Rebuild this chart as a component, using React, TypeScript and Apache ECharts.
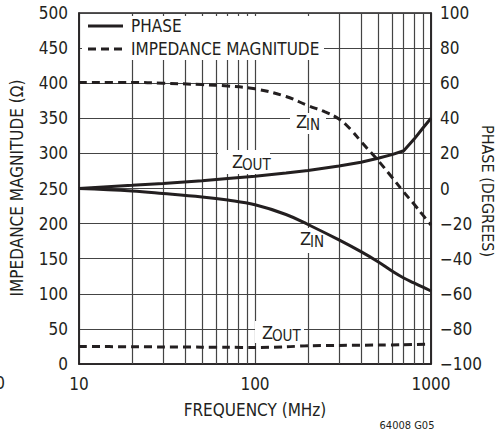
import React, { useEffect, useRef } from "react";
import * as echarts from "echarts";

const freq = [10, 20, 30, 50, 70, 100, 150, 200, 300, 400, 500, 600, 700, 800, 900, 1000];
const phaseZout = [0, 1.8, 2.9, 4.4, 5.7, 7, 8.8, 10.3, 12.8, 15, 17.2, 19.3, 21.5, 28, 34.5, 40];
const phaseZin = [0, -1.4, -2.8, -4.8, -6.6, -9.3, -14.8, -20.5, -29.3, -36, -41.7, -47, -51, -53.8, -56.2, -58.4];
const zinFreq = [10, 20, 30, 50, 70, 100, 150, 200, 250, 300, 350, 400, 500, 600, 700, 800, 900, 1000];
const zinMag = [401, 401, 400, 398, 396, 392, 381, 368, 359, 349, 334, 317, 290, 266, 245, 228, 212, 198];
const zoutFreq = [10, 20, 30, 50, 70, 100, 150, 200, 300, 500, 700, 930];
const zoutMag = [25, 24.6, 24.3, 24, 23.8, 23.5, 24.5, 26, 26.5, 27, 27.5, 28];
const minorFreqs = [20, 30, 40, 50, 60, 70, 80, 90, 200, 300, 400, 500, 600, 700, 800, 900];
const legendNames = ["PHASE", "IMPEDANCE MAGNITUDE"];

const FONT = "'Liberation Sans Narrow', 'DejaVu Sans Condensed', 'Liberation Sans', sans-serif";
const INK = "#231f20";
const GRID = "#444";
const DASH = [8, 5];

const pairs = (xs: number[], ys: number[]) => xs.map((x, i) => [x, ys[i]]);
const minus = (v: number) => (v < 0 ? "\u2212" + Math.abs(v) : String(v));

function zLabel(x: number, y: number, sub: string, box: [number, number, number, number]) {
  return [
    { type: "rect", z: 20, shape: { x: box[0], y: box[1], width: box[2], height: box[3] }, style: { fill: "#fff" } },
    { type: "text", z: 21, x, y, style: { text: "Z", font: `18px ${FONT}`, fill: INK, verticalAlign: "middle", align: "left" } },
    { type: "text", z: 21, x: x + 10, y: y + 4, style: { text: sub, font: `15px ${FONT}`, fill: INK, verticalAlign: "middle", align: "left" } },
  ];
}

export default function App() {
  const ref = useRef<HTMLDivElement>(null);
  useEffect(() => {
    if (!ref.current) return;
    const chart = echarts.init(ref.current, null, { renderer: "svg" });
    const lineW = 3;
    const common = { type: "line", z: 30, showSymbol: false, symbol: "none", itemStyle: { color: INK } };
    chart.setOption({
      animation: false,
      backgroundColor: "#fff",
      grid: { left: 79, right: 67, top: 13, bottom: 69, show: true, borderColor: INK, borderWidth: 1.5, backgroundColor: "transparent" },
      xAxis: {
        type: "log",
        logBase: 10,
        min: 10,
        max: 1000,
        axisLine: { show: true, lineStyle: { color: INK, width: 1.5 } },
        axisTick: { show: false },
        splitLine: { show: true, lineStyle: { color: GRID, width: 1.2 } },
        axisLabel: { fontFamily: FONT, fontSize: 17, color: INK, margin: 11, formatter: (v: number) => String(Math.round(v)) },
      },
      yAxis: [
        {
          type: "value",
          min: 0,
          max: 500,
          interval: 50,
          axisLine: { show: true, lineStyle: { color: INK, width: 1.5 } },
          axisTick: { show: false },
          splitLine: { show: true, lineStyle: { color: GRID, width: 1.2 } },
          axisLabel: { fontFamily: FONT, fontSize: 17, color: INK, margin: 11 },
        },
        {
          type: "value",
          min: -100,
          max: 100,
          interval: 20,
          position: "right",
          axisLine: { show: true, lineStyle: { color: INK, width: 1.5 } },
          axisTick: { show: false },
          splitLine: { show: false },
          axisLabel: { fontFamily: FONT, fontSize: 17, color: INK, margin: 9, formatter: minus },
        },
      ],
      series: [
        {
          type: "line",
          z: 1,
          data: [],
          silent: true,
          markLine: {
            silent: true,
            z: 1,
            symbol: ["none", "none"],
            label: { show: false },
            lineStyle: { color: GRID, width: 1.2, type: "solid" },
            data: minorFreqs.map((f) => ({ xAxis: f })),
          },
        },
        { ...common, name: legendNames[0], yAxisIndex: 1, data: pairs(freq, phaseZout), smooth: false, lineStyle: { color: INK, width: lineW } },
        { ...common, name: legendNames[0], yAxisIndex: 1, data: pairs(freq, phaseZin), smooth: 0.4, lineStyle: { color: INK, width: lineW } },
        { ...common, name: legendNames[1], yAxisIndex: 0, data: pairs(zinFreq, zinMag), smooth: 0.4, lineStyle: { color: INK, width: lineW, type: DASH } },
        { ...common, name: legendNames[1], yAxisIndex: 0, data: pairs(zoutFreq, zoutMag), smooth: 0.3, lineStyle: { color: INK, width: lineW, type: DASH } },
      ],
      graphic: [
        { type: "rect", z: 40, shape: { x: 82, y: 16, width: 242, height: 44 }, style: { fill: "#fff" } },
        { type: "line", z: 41, shape: { x1: 88, y1: 26, x2: 123, y2: 26 }, style: { stroke: INK, lineWidth: 3 } },
        { type: "line", z: 41, shape: { x1: 88, y1: 49, x2: 123, y2: 49 }, style: { stroke: INK, lineWidth: 3, lineDash: DASH } },
        { type: "text", z: 41, x: 131, y: 26, style: { text: legendNames[0], font: `17px ${FONT}`, fill: INK, verticalAlign: "middle" } },
        { type: "text", z: 41, x: 131, y: 49, style: { text: legendNames[1], font: `17px ${FONT}`, fill: INK, verticalAlign: "middle" } },
        ...zLabel(232, 161, "OUT", [218, 150, 52, 24]),
        ...zLabel(296, 121, "IN", [290, 113, 36, 21]),
        ...zLabel(300, 238, "IN", [295, 228, 31, 25]),
        ...zLabel(262, 332, "OUT", [255, 321, 49, 22]),
        {
          type: "text",
          x: 17,
          y: 188,
          rotation: Math.PI / 2,
          style: { text: "IMPEDANCE MAGNITUDE (\u03A9)", font: `17px ${FONT}`, fill: INK, align: "center", verticalAlign: "middle" },
        },
        {
          type: "text",
          x: 487,
          y: 191,
          rotation: -Math.PI / 2,
          style: { text: "PHASE (DEGREES)", font: `16px ${FONT}`, fill: INK, align: "center", verticalAlign: "middle" },
        },
        {
          type: "text",
          x: 255,
          y: 410,
          style: { text: "FREQUENCY (MHz)", font: `17px ${FONT}`, fill: INK, align: "center", verticalAlign: "middle" },
        },
        {
          type: "text",
          x: 407,
          y: 425,
          style: { text: "64008 G05", font: `11px ${FONT}`, fill: INK, align: "center", verticalAlign: "middle" },
        },
        {
          type: "text",
          x: 5,
          y: 383,
          style: { text: "0", font: `17px ${FONT}`, fill: INK, align: "right", verticalAlign: "middle" },
        },
      ],
    });
    return () => chart.dispose();
  }, []);
  return <div ref={ref} style={{ width: 498, height: 433, position: "absolute", left: 0, top: 0 }} />;
}
